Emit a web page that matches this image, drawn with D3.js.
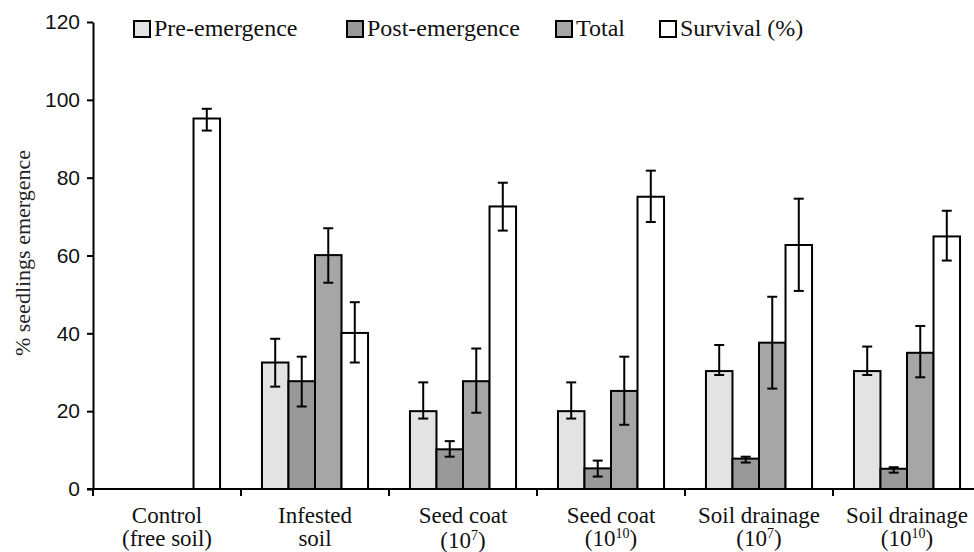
<!DOCTYPE html>
<html>
<head>
<meta charset="utf-8">
<script src="https://cdn.jsdelivr.net/npm/d3@7"></script>
<style>
  body { margin: 0; background: #fff; }
  svg { display: block; }
  .serif { font-family: "Liberation Serif", "Times New Roman", serif; }
  .sans { font-family: "Liberation Sans", Arial, sans-serif; }
</style>
</head>
<body>
<div id="chart"></div>
<script>
// categories, two lines each ("^" marks a superscript)
var catLine1 = ["Control", "Infested", "Seed coat", "Seed coat", "Soil drainage", "Soil drainage"];
var catLine2 = ["(free soil)", "soil", "(10^7)", "(10^10)", "(10^7)", "(10^10)"];

var seriesNames = ["Pre-emergence", "Post-emergence", "Total", "Survival (%)"];
var seriesFill = ["#e3e3e3", "#999999", "#a6a6a6", "#ffffff"];

// values, with lower / upper ends of the error bars
var pre     = [0, 32.5, 20.0, 20.0, 30.3, 30.3];
var preLo   = [0, 26.3, 18.1, 18.1, 29.3, 29.3];
var preHi   = [0, 38.6, 27.4, 27.4, 37.0, 36.6];
var post    = [0, 27.7, 10.2, 5.3, 7.8, 5.2];
var postLo  = [0, 21.2, 8.3, 3.2, 6.8, 4.2];
var postHi  = [0, 34.0, 12.3, 7.3, 8.3, 5.6];
var total   = [0, 60.1, 27.7, 25.2, 37.6, 35.0];
var totalLo = [0, 53.0, 19.6, 16.5, 25.8, 28.7];
var totalHi = [0, 67.0, 36.1, 34.0, 49.4, 41.9];
var surv    = [95.2, 40.1, 72.6, 75.1, 62.7, 64.9];
var survLo  = [92.1, 32.5, 66.4, 68.6, 50.9, 58.7];
var survHi  = [97.7, 48.0, 78.7, 81.8, 74.6, 71.5];

var yTicks = [0, 20, 40, 60, 80, 100, 120];

var W = 974, H = 552;
var svg = d3.select("#chart").append("svg")
    .attr("width", W)
    .attr("height", H);

var x0 = d3.scaleBand().domain(d3.range(catLine1.length)).range([93, 981]);
var x1 = d3.scaleBand().domain(seriesNames).range([0, x0.bandwidth()]).paddingOuter(0.79);
var y = d3.scaleLinear().domain([0, 120]).range([489, 22]);

// build rows for drawing
var vals = [pre, post, total, surv];
var los = [preLo, postLo, totalLo, survLo];
var his = [preHi, postHi, totalHi, survHi];
var rows = [];
for (var c = 0; c < catLine1.length; c++) {
    for (var s = 0; s < seriesNames.length; s++) {
	rows.push({c: c, s: s, v: vals[s][c], lo: los[s][c], hi: his[s][c]});
    }
}

// bars
svg.append("g").selectAll("rect")
    .data(rows)
    .enter().append("rect")
    .attr("x", function(d) { return x0(d.c) + x1(seriesNames[d.s]); })
    .attr("y", function(d) { return y(d.v); })
    .attr("width", x1.bandwidth())
    .attr("height", function(d) { return y(0) - y(d.v); })
    .style("fill", function(d) { return seriesFill[d.s]; })
    .style("stroke", "#000")
    .style("stroke-width", 2);

// error bars (skip the zero bars)
var eb = svg.append("g").selectAll("g")
    .data(rows.filter(function(d) { return d.v > 0; }))
    .enter().append("g")
    .attr("transform", function(d) { return "translate(" + (x0(d.c) + x1(seriesNames[d.s]) + x1.bandwidth()/2) + ",0)"; })
    .style("stroke", "#000")
    .style("stroke-width", 2);
eb.append("line")
    .attr("y1", function(d) { return y(d.lo); })
    .attr("y2", function(d) { return y(d.hi); });
eb.append("line").attr("x1", -5).attr("x2", 5)
    .attr("y1", function(d) { return y(d.lo); })
    .attr("y2", function(d) { return y(d.lo); });
eb.append("line").attr("x1", -5).attr("x2", 5)
    .attr("y1", function(d) { return y(d.hi); })
    .attr("y2", function(d) { return y(d.hi); });

// y axis
var yAxis = svg.append("g")
    .attr("transform", "translate(93,0)")
    .call(d3.axisLeft(y).tickValues(yTicks).tickSize(6).tickPadding(7).tickSizeOuter(0));
yAxis.attr("font-family", null);
yAxis.select(".domain").style("stroke-width", 2);
yAxis.selectAll(".tick line").style("stroke-width", 2);
yAxis.selectAll("text")
    .attr("class", "sans")
    .style("font-size", "21px")
    .attr("fill", "#111");

// x axis: line with ticks at category boundaries
var xg = svg.append("g").attr("transform", "translate(0,489)");
xg.append("line")
    .attr("x1", 87).attr("x2", W)
    .style("stroke", "#000").style("stroke-width", 2);
xg.selectAll(".xt")
    .data(d3.range(catLine1.length + 1))
    .enter().append("line")
    .attr("x1", function(i) { return i < catLine1.length ? x0(i) : x0.range()[1]; })
    .attr("x2", function(i) { return i < catLine1.length ? x0(i) : x0.range()[1]; })
    .attr("y1", 0).attr("y2", 7)
    .style("stroke", "#000").style("stroke-width", 2);

// category labels
function addLine(sel, str) {
    var parts = str.split("^");
    if (parts.length == 1) { sel.text(str); return; }
    var m = parts[1].match(/^(\d+)(.*)$/);
    sel.append("tspan").text(parts[0]);
    sel.append("tspan").attr("dy", -8).style("font-size", "14px").text(m[1]);
    sel.append("tspan").attr("dy", 8).text(m[2]);
}
var labs = svg.append("g").selectAll("g")
    .data(d3.range(catLine1.length))
    .enter().append("g")
    .attr("class", "serif")
    .attr("transform", function(i) { return "translate(" + (x0(i) + x0.bandwidth()/2) + ",0)"; })
    .style("font-size", "23px")
    .attr("fill", "#111")
    .style("text-anchor", "middle");
labs.append("text").attr("y", 523).text(function(i) { return catLine1[i]; });
labs.append("text").attr("y", function(i) { return i == 2 ? 548 : 546; })
    .each(function(i) { addLine(d3.select(this), catLine2[i]); });

// y label
svg.append("text")
    .attr("class", "serif")
    .attr("transform", "translate(30,253) rotate(-90)")
    .style("text-anchor", "middle")
    .style("font-size", "22px")
    .attr("fill", "#222")
    .text("% seedlings emergence");

// legend
var legX = [134, 347, 556, 660];
var leg = svg.append("g").selectAll("g")
    .data(seriesNames)
    .enter().append("g")
    .attr("transform", function(d, i) { return "translate(" + legX[i] + ",21)"; });
leg.append("rect")
    .attr("width", 16).attr("height", 16)
    .style("fill", function(d, i) { return seriesFill[i]; })
    .style("stroke", "#000").style("stroke-width", 2);
leg.append("text")
    .attr("class", "serif")
    .attr("x", 20).attr("y", 15)
    .style("font-size", "24px")
    .attr("fill", "#111")
    .text(function(d) { return d; });
</script>
</body>
</html>
